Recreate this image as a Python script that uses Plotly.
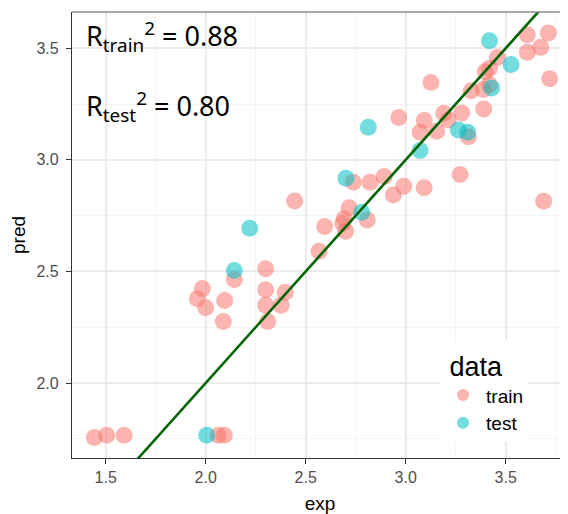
import plotly.graph_objects as go

# ---- data ----
train_exp = [3.608, 3.713, 3.608, 3.675, 3.458, 3.419, 3.397, 3.720, 3.126, 3.419,
             3.388, 3.327, 3.390, 3.280, 3.190, 3.213, 3.093, 2.965, 3.072, 3.155,
             3.313, 3.272, 2.990, 3.092, 3.690, 2.738, 2.822, 2.892, 2.938, 2.445,
             2.717, 2.808, 2.693, 2.685, 2.700, 2.595, 2.567, 2.300, 2.143, 1.983,
             1.958, 2.000, 2.095, 2.300, 2.398, 2.300, 2.377, 2.088, 2.310, 1.443,
             1.505, 1.592, 2.063, 2.093]
train_pred = [3.561, 3.568, 3.482, 3.504, 3.459, 3.410, 3.395, 3.363, 3.347, 3.337,
              3.315, 3.310, 3.228, 3.210, 3.209, 3.179, 3.176, 3.190, 3.124, 3.128,
              3.104, 2.934, 2.882, 2.875, 2.815, 2.900, 2.900, 2.925, 2.843, 2.816,
              2.785, 2.731, 2.736, 2.716, 2.680, 2.701, 2.590, 2.512, 2.464, 2.423,
              2.378, 2.337, 2.370, 2.418, 2.407, 2.348, 2.348, 2.276, 2.276, 1.756,
              1.766, 1.766, 1.766, 1.766]
test_exp = [3.419, 3.527, 3.430, 3.263, 3.310, 3.072, 2.813, 2.701, 2.220, 2.780, 2.143, 2.005]
test_pred = [3.534, 3.427, 3.322, 3.134, 3.124, 3.042, 3.146, 2.918, 2.694, 2.765, 2.504, 1.766]

series_names = ["train", "test"]
legend_title = "data"
r2_labels = ["R<sub>train</sub><sup>2</sup> = 0.88", "R<sub>test</sub><sup>2</sup> = 0.80"]
line_intercept = 0.0
line_slope = 1.0

x_range = [1.3315, 3.8115]
y_range = [1.664, 3.6625]

fig = go.Figure()
fig.add_trace(go.Scatter(x=train_exp, y=train_pred, mode="markers", name=series_names[0],
                         marker=dict(color="#F8766D", size=17, opacity=0.55, line=dict(width=0))))
fig.add_trace(go.Scatter(x=test_exp, y=test_pred, mode="markers", name=series_names[1],
                         marker=dict(color="#00BFC4", size=17, opacity=0.55, line=dict(width=0))))
lx = [x_range[0] - 0.5, x_range[1] + 0.5]
fig.add_trace(go.Scatter(x=lx, y=[line_intercept + line_slope * v for v in lx], mode="lines",
                         line=dict(color="#006400", width=2.6), showlegend=False, hoverinfo="skip"))

grid_major = "#EBEBEB"
grid_minor = "#F4F4F4"
fig.update_xaxes(range=x_range, tick0=1.5, dtick=0.5, tickformat=".1f", automargin=False,
                 showgrid=True, gridcolor=grid_major, gridwidth=1.6,
                 minor=dict(tick0=1.25, dtick=0.5, showgrid=True, gridcolor=grid_minor, gridwidth=1),
                 zeroline=False, showline=True, linecolor="#333333", linewidth=1.2,
                 ticks="outside", ticklen=5, tickcolor="#333333", tickwidth=1,
                 tickfont=dict(family="Liberation Sans", size=16, color="#4D4D4D"),
                 title=dict(text="exp", font=dict(family="Liberation Sans", size=19, color="#000000"), standoff=12))
fig.update_yaxes(range=y_range, tick0=2.0, dtick=0.5, tickformat=".1f", automargin=False,
                 showgrid=True, gridcolor=grid_major, gridwidth=1.6,
                 minor=dict(tick0=1.75, dtick=0.5, showgrid=True, gridcolor=grid_minor, gridwidth=1),
                 zeroline=False, showline=True, linecolor="#333333", linewidth=1.2,
                 ticks="outside", ticklen=5, tickcolor="#333333", tickwidth=1, ticklabelstandoff=4,
                 tickfont=dict(family="Liberation Sans", size=16, color="#4D4D4D"),
                 title=dict(text="pred", font=dict(family="Liberation Sans", size=19, color="#000000"), standoff=8))

# top panel border
fig.add_shape(type="line", xref="paper", yref="paper", x0=0, x1=1, y0=1, y1=1,
              line=dict(color="#8C8C8C", width=1.6))

for i, (txt, yy) in enumerate(zip(r2_labels, [0.944, 0.789])):
    fig.add_annotation(xref="paper", yref="paper", x=0.025, y=yy, xanchor="left", yanchor="middle",
                       text=txt, showarrow=False,
                       font=dict(family="Noto Sans", size=27, color="#000000"))

# page body has an 8px margin: shrink the figure so the plot lands where the reference's does
fig.update_layout(
    width=560, height=506,
    margin=dict(l=64, r=0, t=4, b=56, autoexpand=False),
    paper_bgcolor="white", plot_bgcolor="white",
    legend=dict(x=0.742, y=0.262, xanchor="left", yanchor="top", bgcolor="white",
                title=dict(text="\u00a0" + legend_title,
                           font=dict(family="Liberation Sans", size=27, color="#000000")),
                font=dict(family="Liberation Sans", size=19, color="#000000"),
                itemsizing="constant", itemwidth=36, tracegroupgap=0),
)

fig.write_html("out.html")
